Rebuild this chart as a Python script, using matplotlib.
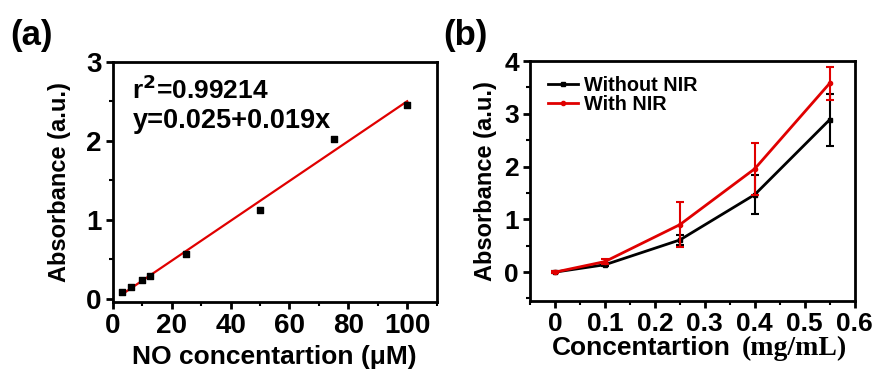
import numpy as np
import matplotlib
matplotlib.use("Agg")
import matplotlib.pyplot as plt
from matplotlib.ticker import MultipleLocator

plt.rcParams['font.family'] = ['Liberation Sans', 'DejaVu Sans']
plt.rcParams['font.weight'] = 'bold'

# Panel (a) data
no_conc = [3.125, 6.25, 10, 12.5, 25, 50, 75, 100]
no_abs = [0.08, 0.15, 0.24, 0.29, 0.57, 1.13, 2.02, 2.45]

# Panel (b) data
conc_b = [0, 0.1, 0.25, 0.4, 0.55]
without_nir = [0.0, 0.14, 0.61, 1.47, 2.89]
without_err = [0.02, 0.03, 0.10, 0.37, 0.49]
with_nir = [0.0, 0.20, 0.90, 1.96, 3.58]
with_err = [0.02, 0.04, 0.42, 0.49, 0.31]

fig = plt.figure(figsize=(8.82, 3.75), dpi=100)

def style(ax, tsize):
    for s in ax.spines.values():
        s.set_linewidth(2.0)
    ax.tick_params(which='major', direction='out', length=5, width=2, labelsize=tsize, pad=3)
    ax.tick_params(which='minor', direction='out', length=3, width=1.5)
    ax.tick_params(top=False, right=False, which='both')
    for lab in ax.get_xticklabels() + ax.get_yticklabels():
        lab.set_fontweight('bold')

RED = '#e00000'

# ---- Panel (a)
ax1 = fig.add_axes([0.128, 0.195, 0.367, 0.640])
ax1.scatter(no_conc, no_abs, marker='s', s=18, color='black', zorder=3)
slope, intercept = np.polyfit(no_conc, no_abs, 1)
xf = np.array([min(no_conc), max(no_conc)])
ax1.plot(xf, intercept + slope * xf, color=RED, lw=1.6, zorder=2)
ax1.set_xlim(0, 110)
ax1.set_ylim(-0.04, 3)
ax1.xaxis.set_major_locator(MultipleLocator(20))
ax1.xaxis.set_minor_locator(MultipleLocator(10))
ax1.yaxis.set_major_locator(MultipleLocator(1))
ax1.yaxis.set_minor_locator(MultipleLocator(0.5))
style(ax1, 20)
ax1.set_xlabel('NO concentartion (μM)', fontsize=19, fontweight='bold', labelpad=4)
ax1.set_ylabel('Absorbance (a.u.)', fontsize=17, fontweight='bold', labelpad=11)
ax1.text(0.06, 0.885, r'r$^{\mathbf{2}}$=0.99214', transform=ax1.transAxes,
         fontsize=19, fontweight='bold', va='center', ha='left')
ax1.text(0.06, 0.755, 'y=0.025+0.019x', transform=ax1.transAxes,
         fontsize=19.5, fontweight='bold', va='center', ha='left')
fig.text(0.012, 0.905, '(a)', fontsize=25, fontweight='bold', va='center', ha='left')

# ---- Panel (b)
ax2 = fig.add_axes([0.601, 0.197, 0.368, 0.640])
ax2.errorbar(conc_b, without_nir, yerr=without_err, fmt='none', ecolor='black',
             capsize=3, capthick=1.5, elinewidth=1.5, zorder=2)
ax2.errorbar(conc_b, with_nir, yerr=with_err, fmt='none', ecolor=RED,
             capsize=3, capthick=1.5, elinewidth=1.5, zorder=3)
l1, = ax2.plot(conc_b, without_nir, color='black', lw=2, marker='s', ms=3,
               label='Without NIR', zorder=2)
l2, = ax2.plot(conc_b, with_nir, color=RED, lw=2, marker='o', ms=3,
               label='With NIR', zorder=3)
ax2.set_xlim(-0.05, 0.6)
ax2.set_ylim(-0.55, 4)
ax2.xaxis.set_major_locator(MultipleLocator(0.1))
ax2.xaxis.set_minor_locator(MultipleLocator(0.05))
ax2.yaxis.set_major_locator(MultipleLocator(1))
ax2.yaxis.set_minor_locator(MultipleLocator(0.5))
ax2.set_xticks([0, 0.1, 0.2, 0.3, 0.4, 0.5, 0.6])
ax2.set_xticklabels(['0', '0.1', '0.2', '0.3', '0.4', '0.5', '0.6'])
style(ax2, 19)
ax2.set_ylabel('Absorbance (a.u.)', fontsize=17, fontweight='bold', labelpad=5)
fig.text(0.727, 0.072, 'Concentartion', fontsize=19,
         fontweight='bold', ha='center', va='center')
fig.text(0.901, 0.072, '(mg/mL)', fontsize=20, fontweight='bold',
         ha='center', va='center', family=['Liberation Serif'])
leg = ax2.legend(handles=[l1, l2], loc='upper left', frameon=False, fontsize=14.3,
                 handlelength=1.5, handletextpad=0.3, labelspacing=0.0,
                 borderaxespad=0.0, bbox_to_anchor=(0.03, 0.97))
for t in leg.get_texts():
    t.set_fontweight('bold')
fig.text(0.502, 0.905, '(b)', fontsize=25, fontweight='bold', va='center', ha='left')

fig.savefig('out.png', dpi=100)
